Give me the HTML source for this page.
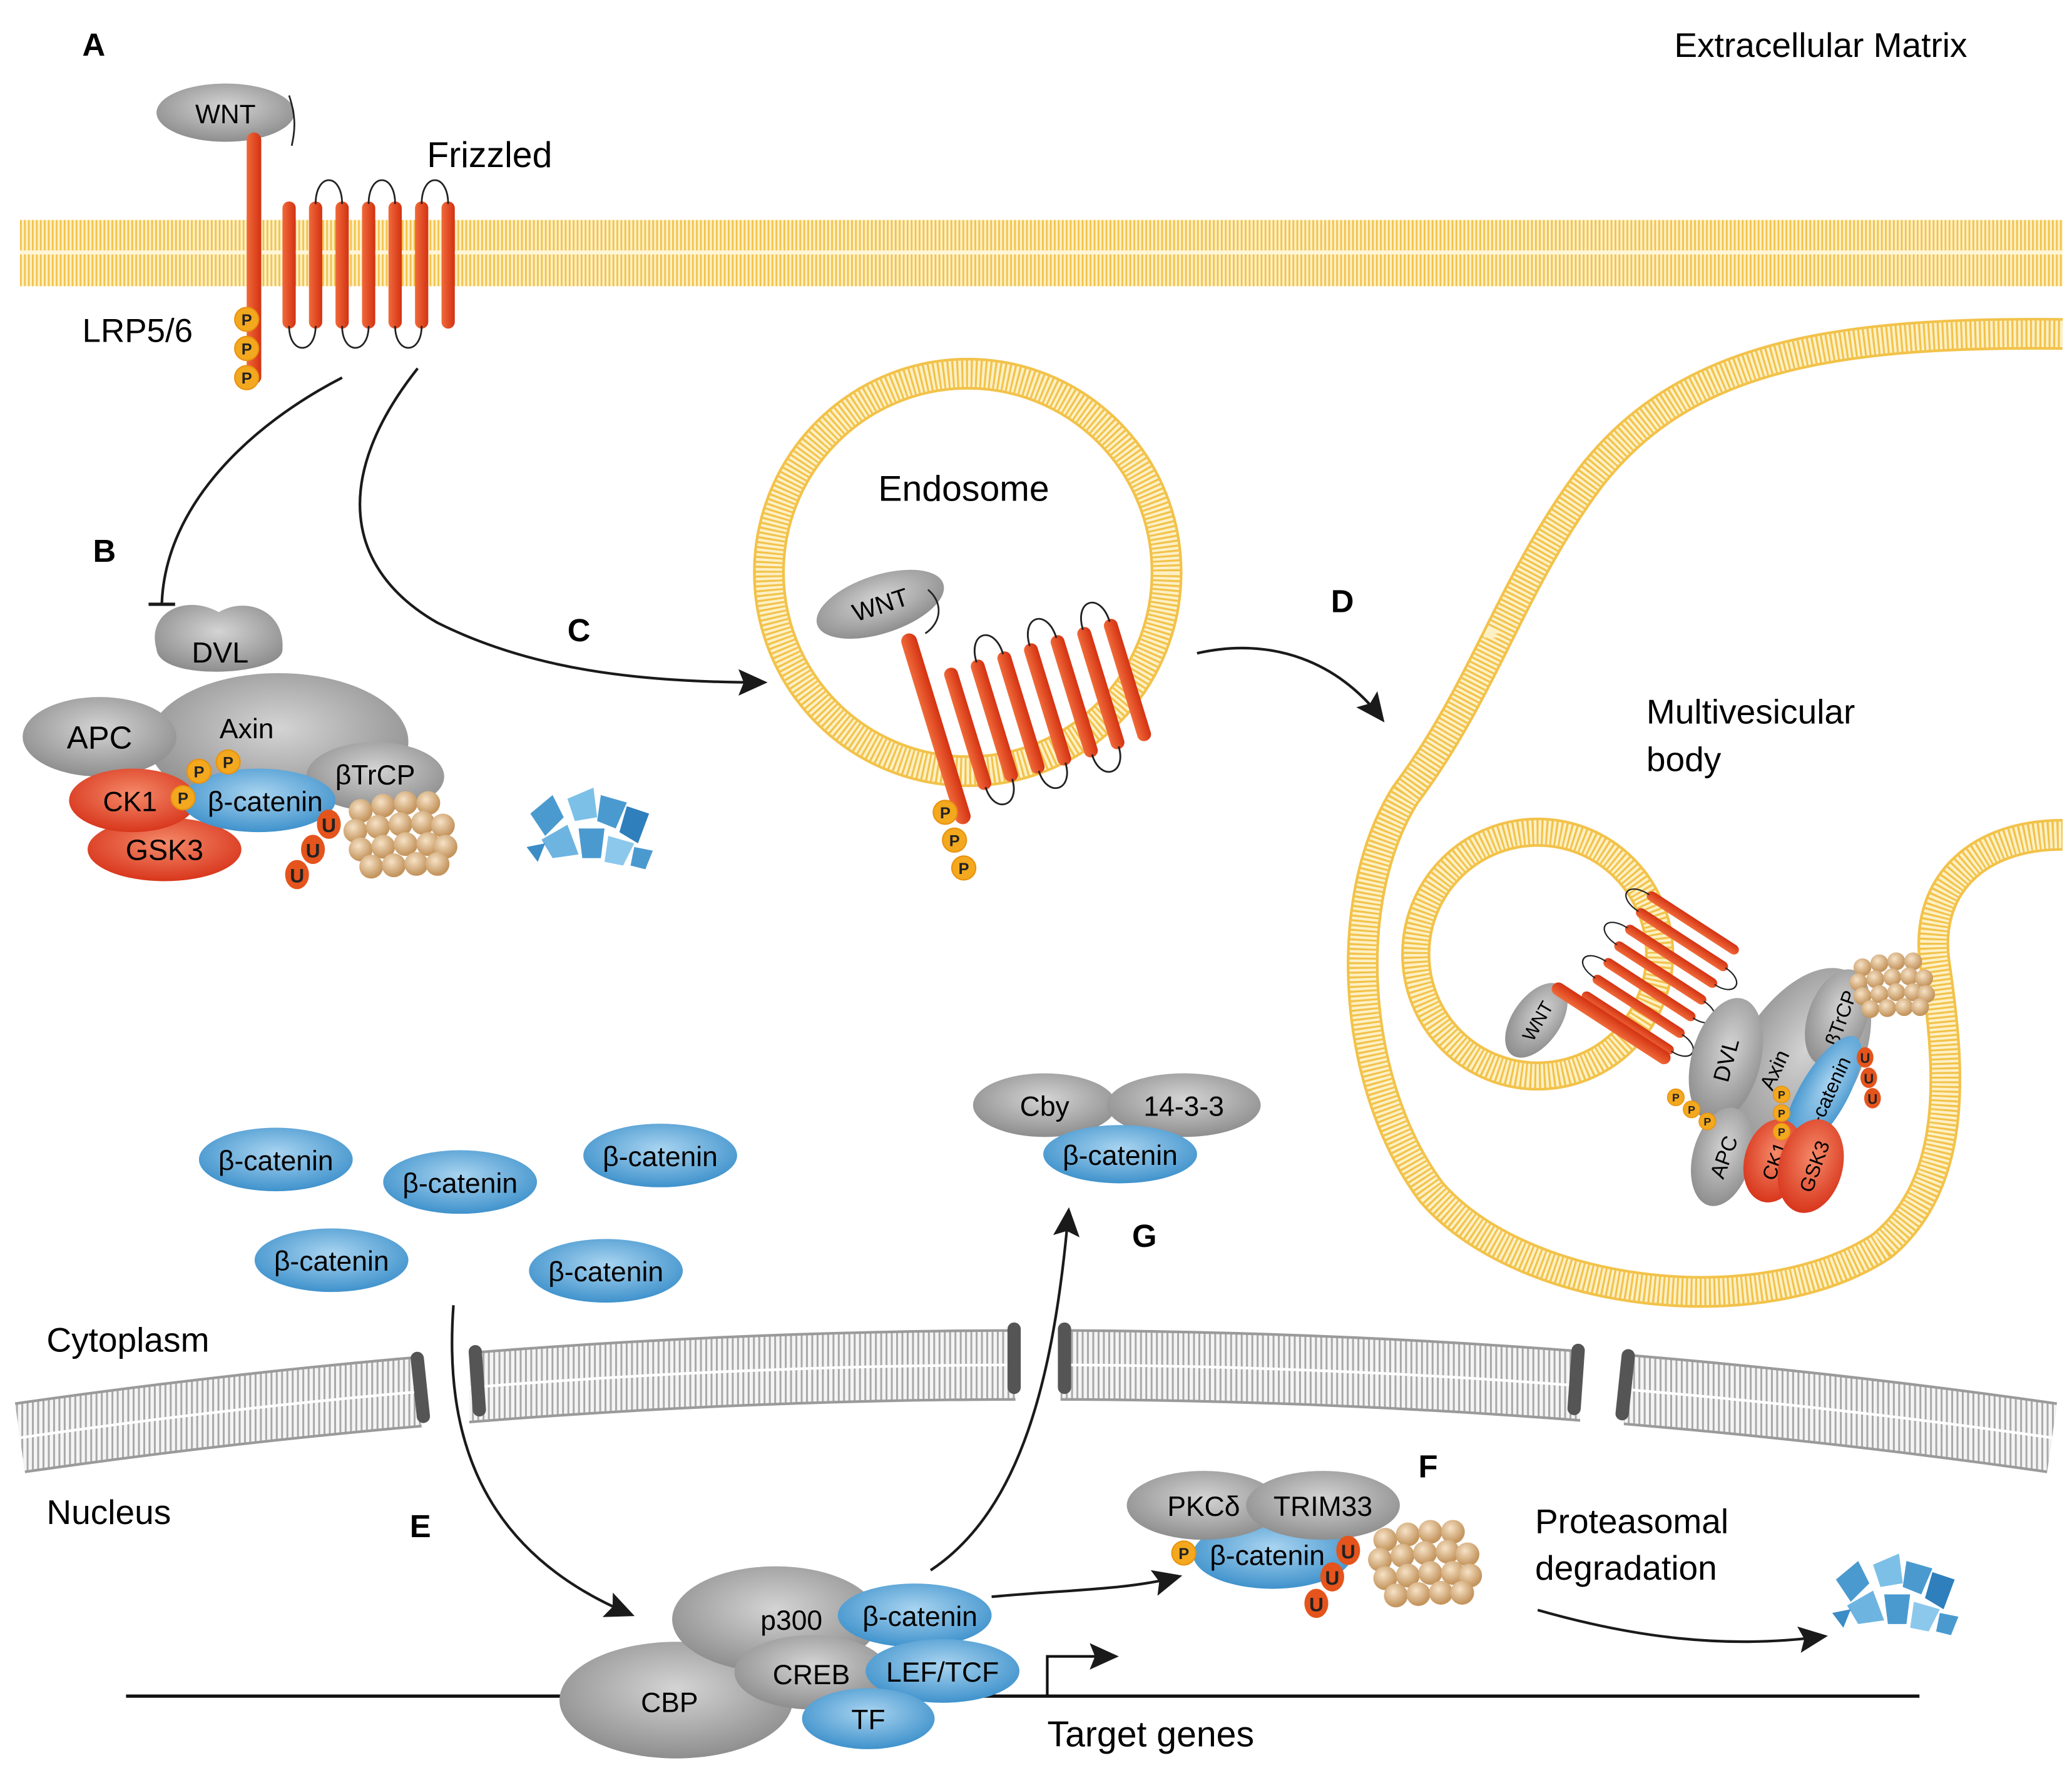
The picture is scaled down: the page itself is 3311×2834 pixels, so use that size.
<!DOCTYPE html>
<html><head><meta charset="utf-8"><style>html,body{margin:0;padding:0;background:#fff}svg{display:block}text{font-family:"Liberation Sans",sans-serif}</style></head><body>
<svg width="3311" height="2834" viewBox="0 0 1563 1338" xmlns="http://www.w3.org/2000/svg">
<defs>
<radialGradient id="gg" cx="50%" cy="40%" r="60%"><stop offset="0" stop-color="#d4d4d4"/><stop offset="1" stop-color="#8e8e8e"/></radialGradient>
<radialGradient id="bg" cx="50%" cy="40%" r="60%"><stop offset="0" stop-color="#a9d4f0"/><stop offset="1" stop-color="#3f92cc"/></radialGradient>
<radialGradient id="rg" cx="50%" cy="40%" r="60%"><stop offset="0" stop-color="#f58a6a"/><stop offset="1" stop-color="#d8361c"/></radialGradient>
<radialGradient id="tg" cx="40%" cy="35%" r="60%"><stop offset="0" stop-color="#f6e2c6"/><stop offset="1" stop-color="#c4955e"/></radialGradient>
<linearGradient id="bar" x1="0" x2="1"><stop offset="0" stop-color="#f06a3a"/><stop offset="1" stop-color="#d33212"/></linearGradient>
<pattern id="yp" width="3" height="10" patternUnits="userSpaceOnUse"><rect width="3" height="10" fill="#fdf0c4"/><rect width="1.3" height="10" fill="#f2c24a"/></pattern>
<pattern id="gp" width="4" height="10" patternUnits="userSpaceOnUse"><rect width="4" height="10" fill="#f4f4f4"/><rect width="1.4" height="10" fill="#a8a8a8"/></pattern>
<g id="ball"><circle r="9" fill="url(#tg)"/></g>
<g id="prot">
<use href="#ball" x="0" y="0"/><use href="#ball" x="17" y="-4"/><use href="#ball" x="34" y="-6"/><use href="#ball" x="51" y="-6"/>
<use href="#ball" x="-4" y="15"/><use href="#ball" x="13" y="12"/><use href="#ball" x="30" y="10"/><use href="#ball" x="47" y="9"/><use href="#ball" x="62" y="11"/>
<use href="#ball" x="0" y="29"/><use href="#ball" x="17" y="27"/><use href="#ball" x="34" y="25"/><use href="#ball" x="51" y="25"/><use href="#ball" x="64" y="27"/>
<use href="#ball" x="8" y="42"/><use href="#ball" x="25" y="41"/><use href="#ball" x="42" y="40"/><use href="#ball" x="58" y="40"/>
</g>
<g id="frag" fill="#4a9ad0">
<path d="M0 10 L12 0 L18 12 L8 22Z"/><path d="M20 2 L34 -4 L36 12 L24 14Z" fill="#7cc0e8"/><path d="M38 0 L52 4 L46 18 L36 14Z"/><path d="M52 6 L64 10 L58 26 L48 20Z" fill="#2e7fbc"/>
<path d="M6 24 L20 16 L26 32 L12 34Z" fill="#6eb4e0"/><path d="M26 18 L40 18 L38 34 L28 34Z"/><path d="M42 22 L56 26 L50 38 L40 36Z" fill="#8cc8ec"/><path d="M-2 28 L8 26 L4 36Z" fill="#3c8cc6"/><path d="M56 28 L66 30 L62 40 L54 38Z"/>
</g>
<marker id="ah2" markerWidth="22" markerHeight="20" refX="18" refY="10" orient="auto" markerUnits="userSpaceOnUse"><path d="M0 0 L22 10 L0 20 L4 10Z" fill="#1a1a1a"/></marker>
<g id="fz">
<g fill="url(#bar)">
<rect x="-5" y="-48" width="10" height="96" rx="5"/><rect x="15" y="-48" width="10" height="96" rx="5"/><rect x="35" y="-48" width="10" height="96" rx="5"/><rect x="55" y="-48" width="10" height="96" rx="5"/><rect x="75" y="-48" width="10" height="96" rx="5"/><rect x="95" y="-48" width="10" height="96" rx="5"/><rect x="115" y="-48" width="10" height="96" rx="5"/>
</g>
<g fill="none" stroke="#222" stroke-width="1.3">
<path d="M20 -46 C20 -70 40 -70 40 -46"/><path d="M60 -46 C60 -70 80 -70 80 -46"/><path d="M100 -46 C100 -70 120 -70 120 -46"/>
<path d="M0 46 C0 68 20 68 20 46"/><path d="M40 46 C40 68 60 68 60 46"/><path d="M80 46 C80 68 100 68 100 46"/>
</g>
</g>
<g id="P"><circle r="9" fill="#f3a81e" stroke="#e89310" stroke-width="1"/><text y="4.5" text-anchor="middle" font-size="12" font-weight="bold" fill="#222">P</text></g>
<g id="U"><ellipse rx="9" ry="11" fill="#e4541c"/><text y="6" text-anchor="middle" font-size="15" font-weight="bold" fill="#222">U</text></g>
</defs>

<rect x="15" y="166" width="1541" height="50" fill="url(#yp)"/>
<rect x="15" y="189" width="1541" height="3" fill="#fff6d8"/>

<path d="M1556 252 C1380 250 1270 270 1200 360 C1140 440 1120 520 1060 600 C1010 680 1020 820 1080 900 C1150 980 1330 1000 1420 940 C1480 890 1470 800 1460 730 C1450 670 1490 630 1556 630" fill="none" stroke="#f2c24a" stroke-width="24"/>
<path d="M1556 252 C1380 250 1270 270 1200 360 C1140 440 1120 520 1060 600 C1010 680 1020 820 1080 900 C1150 980 1330 1000 1420 940 C1480 890 1470 800 1460 730 C1450 670 1490 630 1556 630" fill="none" stroke="#fdf0c4" stroke-width="20" stroke-dasharray="2 1.5"/>
<circle cx="1160" cy="720" r="92" fill="none" stroke="#f2c24a" stroke-width="22"/>
<circle cx="1160" cy="720" r="92" fill="none" stroke="#fdf0c4" stroke-width="18" stroke-dasharray="2 1.5"/>
<circle cx="730" cy="432" r="150" fill="none" stroke="#f2c24a" stroke-width="24"/>
<circle cx="730" cy="432" r="150" fill="none" stroke="#fdf0c4" stroke-width="20" stroke-dasharray="2 1.5"/>

<path d="M15 1085 Q 780 975 1548 1085" fill="none" stroke="#9a9a9a" stroke-width="54"/>
<path d="M15 1085 Q 780 975 1548 1085" fill="none" stroke="url(#gp)" stroke-width="50"/>
<path d="M15 1085 Q 780 975 1548 1085" fill="none" stroke="#fff" stroke-width="2"/>
<rect x="318" y="995" width="36" height="100" fill="#fff"/>
<rect x="766" y="975" width="34" height="90" fill="#fff"/>
<rect x="1192" y="985" width="33" height="105" fill="#fff"/>
<g fill="#555">
<rect x="312" y="1020" width="10" height="54" rx="5" transform="rotate(-6 317 1047)"/>
<rect x="355" y="1015" width="10" height="54" rx="5" transform="rotate(-4 360 1042)"/>
<rect x="760" y="998" width="10" height="54" rx="5"/>
<rect x="798" y="998" width="10" height="54" rx="5"/>
<rect x="1184" y="1014" width="10" height="54" rx="5" transform="rotate(4 1189 1041)"/>
<rect x="1221" y="1018" width="10" height="54" rx="5" transform="rotate(6 1226 1045)"/>
</g>
<line x1="95" y1="1280" x2="1448" y2="1280" stroke="#111" stroke-width="2.5"/>
<path d="M790 1280 V1250 H840" fill="none" stroke="#111" stroke-width="2" marker-end="url(#ah2)"/>

<ellipse cx="170" cy="85" rx="52" ry="22" fill="url(#gg)"/>
<text x="170" y="93" text-anchor="middle" font-size="20">WNT</text>
<path d="M218 72 C224 90 222 100 220 110" fill="none" stroke="#222" stroke-width="1.3"/>
<rect x="186" y="100" width="11" height="190" rx="5.5" fill="url(#bar)"/>
<use href="#fz" x="218" y="200"/>
<use href="#P" x="186" y="241"/><use href="#P" x="186" y="263"/><use href="#P" x="186" y="285"/>
<text x="62" y="258" font-size="25">LRP5/6</text>
<text x="322" y="126" font-size="27">Frizzled</text>
<text x="62" y="42" font-size="24" font-weight="bold">A</text>
<text x="1263" y="43" font-size="26">Extracellular Matrix</text>

<path d="M258 285 C190 320 125 380 122 455" fill="none" stroke="#1a1a1a" stroke-width="2"/>
<line x1="112" y1="456" x2="132" y2="456" stroke="#1a1a1a" stroke-width="2.5"/>
<path d="M315 278 C250 360 260 430 330 470 C400 505 480 515 575 515" fill="none" stroke="#1a1a1a" stroke-width="2" marker-end="url(#ah2)"/>
<text x="70" y="424" font-size="24" font-weight="bold">B</text>
<text x="428" y="484" font-size="24" font-weight="bold">C</text>

<ellipse cx="210" cy="560" rx="98" ry="52" fill="url(#gg)"/>
<path d="M118 490 C110 462 140 448 165 462 C185 450 215 460 213 490 C214 510 120 515 118 490Z" fill="url(#gg)"/>
<text x="166" y="500" text-anchor="middle" font-size="22">DVL</text>
<ellipse cx="75" cy="556" rx="58" ry="30" fill="url(#gg)"/>
<text x="75" y="565" text-anchor="middle" font-size="24">APC</text>
<text x="186" y="557" text-anchor="middle" font-size="21">Axin</text>
<ellipse cx="283" cy="586" rx="52" ry="26" fill="url(#gg)"/>
<text x="283" y="592" text-anchor="middle" font-size="21">βTrCP</text>
<ellipse cx="124" cy="641" rx="58" ry="24" fill="url(#rg)"/>
<text x="124" y="649" text-anchor="middle" font-size="22">GSK3</text>
<ellipse cx="100" cy="604" rx="48" ry="24" fill="url(#rg)"/>
<text x="98" y="612" text-anchor="middle" font-size="21">CK1</text>
<ellipse cx="195" cy="604" rx="58" ry="24" fill="url(#bg)"/>
<text x="200" y="612" text-anchor="middle" font-size="21">β-catenin</text>
<use href="#P" x="150" y="582"/><use href="#P" x="172" y="575"/><use href="#P" x="138" y="602"/>
<use href="#prot" x="272" y="612"/>
<use href="#U" x="248" y="622"/><use href="#U" x="236" y="641"/><use href="#U" x="224" y="660"/>
<g transform="translate(400 600) scale(1.4)"><use href="#frag"/></g>

<text x="727" y="378" text-anchor="middle" font-size="27">Endosome</text>
<ellipse cx="664" cy="456" rx="50" ry="22" fill="url(#gg)" transform="rotate(-18 664 456)"/>
<text x="664" y="463" text-anchor="middle" font-size="19" transform="rotate(-18 664 456)">WNT</text>
<path d="M700 445 C712 455 710 470 698 478" fill="none" stroke="#222" stroke-width="1.3"/>
<rect x="700" y="475" width="12" height="150" rx="6" fill="url(#bar)" transform="rotate(-17 706 550)"/>
<g transform="translate(730 550) rotate(-17) scale(1.05 1)"><use href="#fz"/></g>
<use href="#P" x="713" y="613"/><use href="#P" x="720" y="634"/><use href="#P" x="727" y="655"/>

<path d="M903 493 C960 480 1010 500 1042 542" fill="none" stroke="#1a1a1a" stroke-width="2" marker-end="url(#ah2)"/>
<text x="1004" y="462" font-size="24" font-weight="bold">D</text>
<text x="1242" y="546" font-size="26">Multivesicular</text>
<text x="1242" y="582" font-size="26">body</text>

<ellipse cx="1159" cy="770" rx="18" ry="32" fill="url(#gg)" transform="rotate(35 1159 770)"/>
<text x="1159" y="776" text-anchor="middle" font-size="14" transform="rotate(-60 1159 770)">WNT</text>
<g transform="translate(1228 772) rotate(-57) scale(0.75 0.85)"><use href="#fz"/></g>
<rect x="1210" y="720" width="10" height="105" rx="5" fill="url(#bar)" transform="rotate(-57 1215 772)"/>
<ellipse cx="1355" cy="805" rx="45" ry="82" fill="url(#gg)" transform="rotate(30 1355 805)"/>
<ellipse cx="1302" cy="800" rx="26" ry="48" fill="url(#gg)" transform="rotate(15 1302 800)"/>
<text x="1302" y="806" text-anchor="middle" font-size="17" transform="rotate(-75 1302 800)">DVL</text>
<text x="1340" y="812" text-anchor="middle" font-size="16" transform="rotate(-65 1340 808)">Axin</text>
<ellipse cx="1386" cy="768" rx="22" ry="38" fill="url(#gg)" transform="rotate(20 1386 768)"/>
<text x="1388" y="774" text-anchor="middle" font-size="15" transform="rotate(-70 1388 768)">βTrCP</text>
<ellipse cx="1375" cy="826" rx="18" ry="50" fill="url(#bg)" transform="rotate(30 1375 826)"/>
<text x="1378" y="832" text-anchor="middle" font-size="15" transform="rotate(-65 1378 826)">β-catenin</text>
<ellipse cx="1299" cy="873" rx="22" ry="38" fill="url(#gg)" transform="rotate(15 1299 873)"/>
<text x="1300" y="879" text-anchor="middle" font-size="16" transform="rotate(-70 1300 873)">APC</text>
<ellipse cx="1338" cy="876" rx="22" ry="32" fill="url(#rg)" transform="rotate(15 1338 876)"/>
<text x="1338" y="882" text-anchor="middle" font-size="15" transform="rotate(-70 1338 876)">CK1</text>
<ellipse cx="1366" cy="880" rx="24" ry="36" fill="url(#rg)" transform="rotate(15 1366 880)"/>
<text x="1368" y="886" text-anchor="middle" font-size="15" transform="rotate(-70 1368 880)">GSK3</text>
<g transform="translate(1405 730) scale(0.75)"><use href="#prot"/></g>
<g transform="scale(0.7)"><use href="#P" x="1806" y="1183"/><use href="#P" x="1823" y="1196"/><use href="#P" x="1840" y="1209"/>
<use href="#P" x="1920" y="1180"/><use href="#P" x="1920" y="1200"/><use href="#P" x="1920" y="1220"/>
<use href="#U" x="2010" y="1140"/><use href="#U" x="2014" y="1162"/><use href="#U" x="2018" y="1184"/></g>

<g font-size="21" text-anchor="middle">
<ellipse cx="208" cy="875" rx="58" ry="24" fill="url(#bg)"/><text x="208" y="883">β-catenin</text>
<ellipse cx="347" cy="892" rx="58" ry="24" fill="url(#bg)"/><text x="347" y="900">β-catenin</text>
<ellipse cx="498" cy="872" rx="58" ry="24" fill="url(#bg)"/><text x="498" y="880">β-catenin</text>
<ellipse cx="250" cy="951" rx="58" ry="24" fill="url(#bg)"/><text x="250" y="959">β-catenin</text>
<ellipse cx="457" cy="959" rx="58" ry="24" fill="url(#bg)"/><text x="457" y="967">β-catenin</text>
</g>
<text x="35" y="1020" font-size="26">Cytoplasm</text>
<text x="35" y="1150" font-size="26">Nucleus</text>

<ellipse cx="788" cy="834" rx="54" ry="24" fill="url(#gg)"/>
<ellipse cx="893" cy="834" rx="58" ry="24" fill="url(#gg)"/>
<ellipse cx="845" cy="871" rx="58" ry="22" fill="url(#bg)"/>
<text x="788" y="842" text-anchor="middle" font-size="21">Cby</text>
<text x="893" y="842" text-anchor="middle" font-size="21">14-3-3</text>
<text x="845" y="879" text-anchor="middle" font-size="21">β-catenin</text>
<text x="854" y="941" font-size="24" font-weight="bold">G</text>

<path d="M342 985 C335 1080 360 1170 475 1218" fill="none" stroke="#1a1a1a" stroke-width="2" marker-end="url(#ah2)"/>
<text x="309" y="1160" font-size="24" font-weight="bold">E</text>
<path d="M702 1185 C770 1140 795 1040 806 915" fill="none" stroke="#1a1a1a" stroke-width="2" marker-end="url(#ah2)"/>
<path d="M748 1205 C800 1200 850 1200 888 1190" fill="none" stroke="#1a1a1a" stroke-width="2" marker-end="url(#ah2)"/>
<path d="M1160 1215 C1230 1235 1300 1245 1375 1235" fill="none" stroke="#1a1a1a" stroke-width="2" marker-end="url(#ah2)"/>

<ellipse cx="510" cy="1283" rx="88" ry="44" fill="url(#gg)"/>
<ellipse cx="585" cy="1222" rx="78" ry="40" fill="url(#gg)"/>
<ellipse cx="612" cy="1262" rx="58" ry="28" fill="url(#gg)"/>
<ellipse cx="690" cy="1219" rx="58" ry="24" fill="url(#bg)"/>
<ellipse cx="711" cy="1261" rx="58" ry="24" fill="url(#bg)"/>
<ellipse cx="655" cy="1297" rx="50" ry="23" fill="url(#bg)"/>
<text x="505" y="1292" text-anchor="middle" font-size="21">CBP</text>
<text x="597" y="1230" text-anchor="middle" font-size="21">p300</text>
<text x="612" y="1271" text-anchor="middle" font-size="21">CREB</text>
<text x="694" y="1227" text-anchor="middle" font-size="21">β-catenin</text>
<text x="711" y="1269" text-anchor="middle" font-size="21">LEF/TCF</text>
<text x="655" y="1305" text-anchor="middle" font-size="21">TF</text>
<text x="790" y="1318" font-size="27">Target genes</text>

<ellipse cx="960" cy="1173" rx="60" ry="26" fill="url(#bg)"/>
<ellipse cx="908" cy="1136" rx="58" ry="26" fill="url(#gg)"/>
<ellipse cx="998" cy="1136" rx="58" ry="26" fill="url(#gg)"/>
<text x="908" y="1144" text-anchor="middle" font-size="21">PKCδ</text>
<text x="998" y="1144" text-anchor="middle" font-size="21">TRIM33</text>
<text x="956" y="1181" text-anchor="middle" font-size="21">β-catenin</text>
<use href="#P" x="893" y="1172"/>
<use href="#prot" x="1045" y="1162"/>
<use href="#U" x="1017" y="1170"/><use href="#U" x="1005" y="1190"/><use href="#U" x="993" y="1210"/>
<text x="1070" y="1115" font-size="24" font-weight="bold">F</text>
<text x="1158" y="1157" font-size="26">Proteasomal</text>
<text x="1158" y="1192" font-size="26">degradation</text>
<g transform="translate(1385 1178) scale(1.4)"><use href="#frag"/></g>
</svg>
</body></html>
